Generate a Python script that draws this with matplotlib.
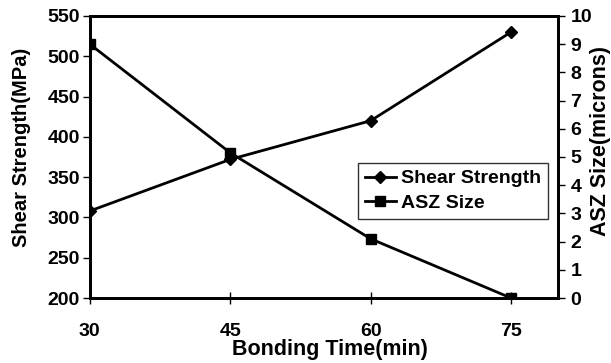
import numpy as np
import matplotlib
matplotlib.use('Agg')
import matplotlib.pyplot as plt

plt.rcParams['font.family'] = ['Liberation Sans', 'DejaVu Sans']
plt.rcParams['font.weight'] = 'bold'

bonding_time = [30, 45, 60, 75]
shear_strength = [308, 372, 420, 530]
asz_size = [9.0, 5.15, 2.1, 0.0]

fig = plt.figure(figsize=(6.11, 3.63), dpi=100)
ax = fig.add_axes([0.147, 0.179, 0.766, 0.777])
ax2 = ax.twinx()

l1, = ax.plot(bonding_time, shear_strength, color='black', lw=2.0,
              marker='D', ms=6, label='Shear Strength')
l2, = ax2.plot(bonding_time, asz_size, color='black', lw=2.0,
               marker='s', ms=7.5, label='ASZ Size')

ax.set_xlim(30, 80)
ax.set_ylim(200, 550)
ax2.set_ylim(0, 10)
ax.set_xticks([30, 45, 60, 75])
ax.set_yticks(np.arange(200, 551, 50))
ax2.set_yticks(np.arange(0, 11, 1))

for a in (ax, ax2):
    for s in a.spines.values():
        s.set_linewidth(2.0)
ax.tick_params(axis='y', direction='out', length=5, width=1, labelsize=14, pad=2)
ax.tick_params(axis='x', direction='inout', length=8, width=1, labelsize=14, pad=14)
ax2.tick_params(axis='y', direction='out', length=5, width=1, labelsize=14, pad=4)

ax.set_xlabel('Bonding Time(min)', fontsize=15.5, fontweight='bold')
ax.set_ylabel('Shear Strength(MPa)', fontsize=14.5, fontweight='bold')
ax2.set_ylabel('ASZ Size(microns)', fontsize=15.5, fontweight='bold')
ax.xaxis.set_label_coords(0.513, -0.146)
ax.yaxis.set_label_coords(-0.125, 0.535)
ax2.yaxis.set_label_coords(1.068, 0.555)

leg = ax.legend(handles=[l1, l2], loc='upper left', bbox_to_anchor=(0.573, 0.479),
                fontsize=14, frameon=True, fancybox=False, handlelength=1.6,
                handletextpad=0.25, borderpad=0.35, labelspacing=0.35, borderaxespad=0)
leg.get_frame().set_edgecolor('black')
leg.get_frame().set_linewidth(1.0)
for t in leg.get_texts():
    t.set_fontweight('bold')

fig.savefig('out.png', dpi=100)
